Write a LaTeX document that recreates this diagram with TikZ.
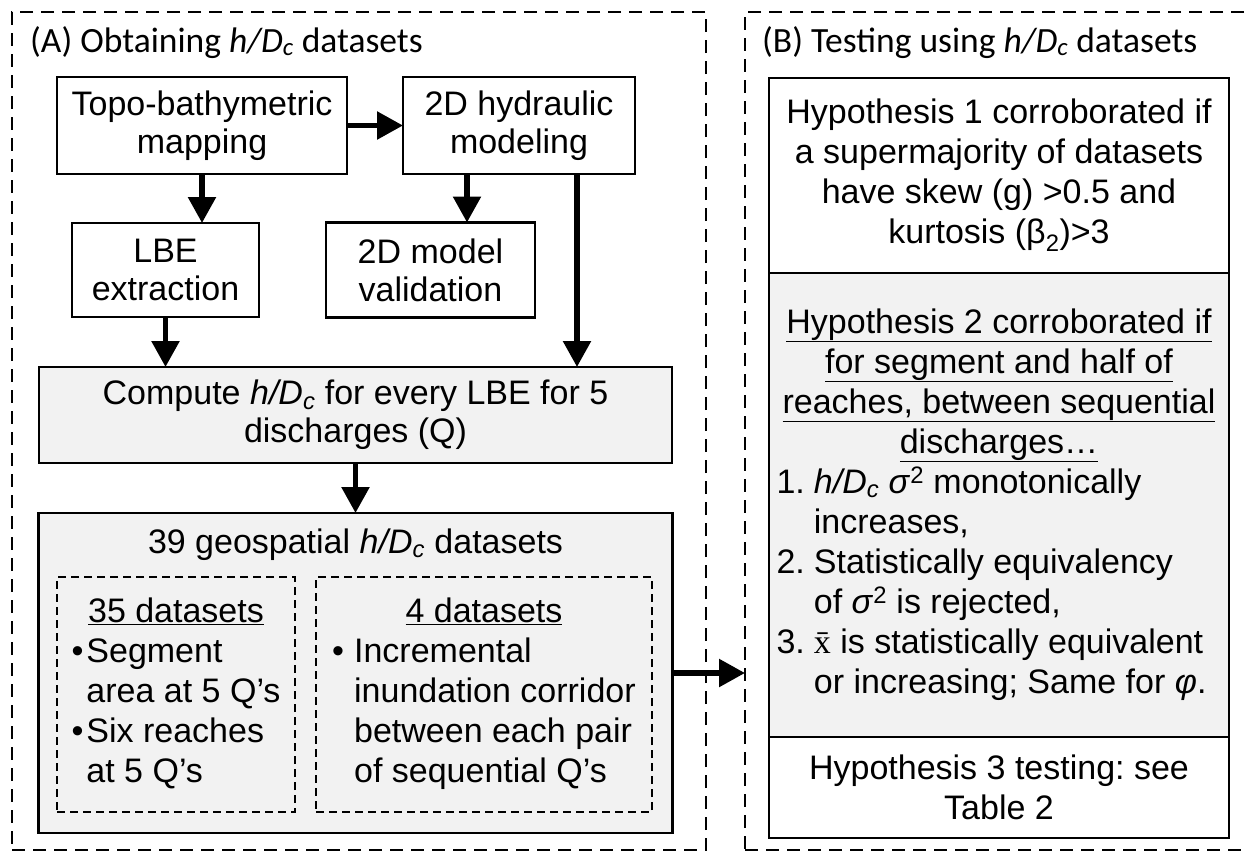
\documentclass[tikz,border=0pt]{standalone}
\usepackage{fontspec}
\setmainfont{Liberation Sans}
\newfontfamily\headfont{Carlito}
\newfontfamily\xbarfont{Liberation Serif}
\usetikzlibrary{arrows.meta,positioning}
\definecolor{boxgray}{RGB}{242,242,242}
\newcommand{\hDc}{\textit{h/D}\textsubscript{\textit{c}}}
\frenchspacing

\begin{document}
\begin{tikzpicture}[
        x=1pt, y=-1pt,
        panel/.style={rectangle, draw, line width=2.5pt, dash pattern=on 13pt off 8pt, outer sep=0pt},
        heading/.style={font=\headfont\fontsize{35.5}{40}\selectfont, inner sep=0pt, anchor=base west},
        stage/.style={rectangle, draw, line width=2.8pt, fill=white, align=center, outer sep=0pt, inner sep=0pt, font=\fontsize{34}{38}\selectfont},
        result/.style={stage, fill=boxgray},
        subset/.style={rectangle, draw, line width=2pt, dash pattern=on 8pt off 5pt, outer sep=0pt, inner sep=0pt, minimum height=235pt, font=\fontsize{34}{40}\selectfont},
        hyp/.style={rectangle, draw, line width=2.8pt, fill=white, align=center, outer sep=0pt, inner sep=0pt, minimum width=460pt, font=\fontsize{34}{40}\selectfont},
        arrow/.style={-{Triangle[length=26pt,width=27pt]}, line width=5.5pt}
    ]
    \useasboundingbox (0,0) rectangle (1249,852);

    % Panels
    \node[panel, minimum width=694pt, minimum height=838pt] (panelA) at (359,431) {};
    \node[panel, minimum width=513pt, minimum height=838pt] (panelB) at (1001.5,431) {};
    \node[heading] (titleA) at (30,52) {(A) Obtaining \hDc{} datasets};
    \node[heading] (titleB) at (762,52) {(B) Testing using \hDc{} datasets};

    % Mapping and modeling
    \node[stage, minimum width=290pt, minimum height=97pt] (topo) at (202,125.5) {Topo-bathymetric\\mapping};
    \node[stage, minimum width=232pt, minimum height=97pt, right=56pt of topo] (hydro) {2D hydraulic\\modeling};
    \node[stage, minimum width=187pt, minimum height=94pt] (lbe) at (165.5,270) {LBE\\extraction};
    \node[stage, minimum width=209pt, minimum height=95pt, right=67pt of lbe] (valid) {2D model\\validation};

    % Datasets
    \node[result, minimum width=633pt, minimum height=96pt] (compute) at (355.5,415) {Compute \hDc{} for every LBE for 5\\discharges (Q)};
    \node[result, minimum width=634pt, minimum height=320pt, below=50pt of compute] (geo) {};
    \node[anchor=base, inner sep=0pt, font=\fontsize{34}{40}\selectfont] (geohead) at ([yshift=-40pt]geo.north) {39 geospatial \hDc{} datasets};
    \node[subset, minimum width=238pt] (set35) at (176,694.5) {%
        \begin{tabular}{@{}l@{\hspace{3pt}}l@{}}
        \multicolumn{2}{c}{\underline{35 datasets}}\\
        • & Segment\\
          & area at 5 Q’s\\
        • & Six reaches\\
          & at 5 Q’s
        \end{tabular}};
    \node[subset, minimum width=336pt, right=21pt of set35] (set4) {%
        \begin{tabular}{@{}l@{\hspace{10pt}}l@{}}
        \multicolumn{2}{c}{\underline{4 datasets}}\\
        • & Incremental\\
          & inundation corridor\\
          & between each pair\\
          & of sequential Q’s
        \end{tabular}};

    % Hypotheses
    \node[hyp, minimum height=195pt] (hyp1) at (999,175.5) {Hypothesis 1 corroborated if\\a supermajority of datasets\\have skew (g) >0.5 and\\kurtosis (β\textsubscript{2})>3};
    \node[hyp, fill=boxgray, minimum height=464pt, below=0pt of hyp1] (hyp2) {%
        \begin{tabular}{@{}l@{\hspace{9pt}}l@{}}
        \multicolumn{2}{c}{\underline{Hypothesis 2 corroborated if}}\\
        \multicolumn{2}{c}{\underline{for segment and half of}}\\
        \multicolumn{2}{c}{\underline{reaches, between sequential}}\\
        \multicolumn{2}{c}{\underline{discharges…}}\\
        1. & \hDc{} \textit{σ}\textsuperscript{2} monotonically\\
           & increases,\\
        2. & Statistically equivalency\\
           & of \textit{σ}\textsuperscript{2} is rejected,\\
        3. & {\xbarfont\={x}} is statistically equivalent\\
           & or increasing; Same for \textit{φ}.
        \end{tabular}};
    \node[hyp, minimum height=101pt, below=0pt of hyp2] (hyp3) {Hypothesis 3 testing: see\\Table 2};

    % Arrows
    \draw[arrow] (topo) -- (hydro);
    \draw[arrow] (topo.south) -- (topo.south |- lbe.north);
    \draw[arrow] ([xshift=-52pt]hydro.south) -- ([xshift=-52pt]hydro.south |- valid.north);
    \draw[arrow] ([xshift=58pt]hydro.south) -- ([xshift=58pt]hydro.south |- compute.north);
    \draw[arrow] (lbe.south) -- (lbe.south |- compute.north);
    \draw[arrow] (compute) -- (geo);
    \draw[arrow] (geo.east) -- (geo.east -| panelB.west);

\end{tikzpicture}
\end{document}
